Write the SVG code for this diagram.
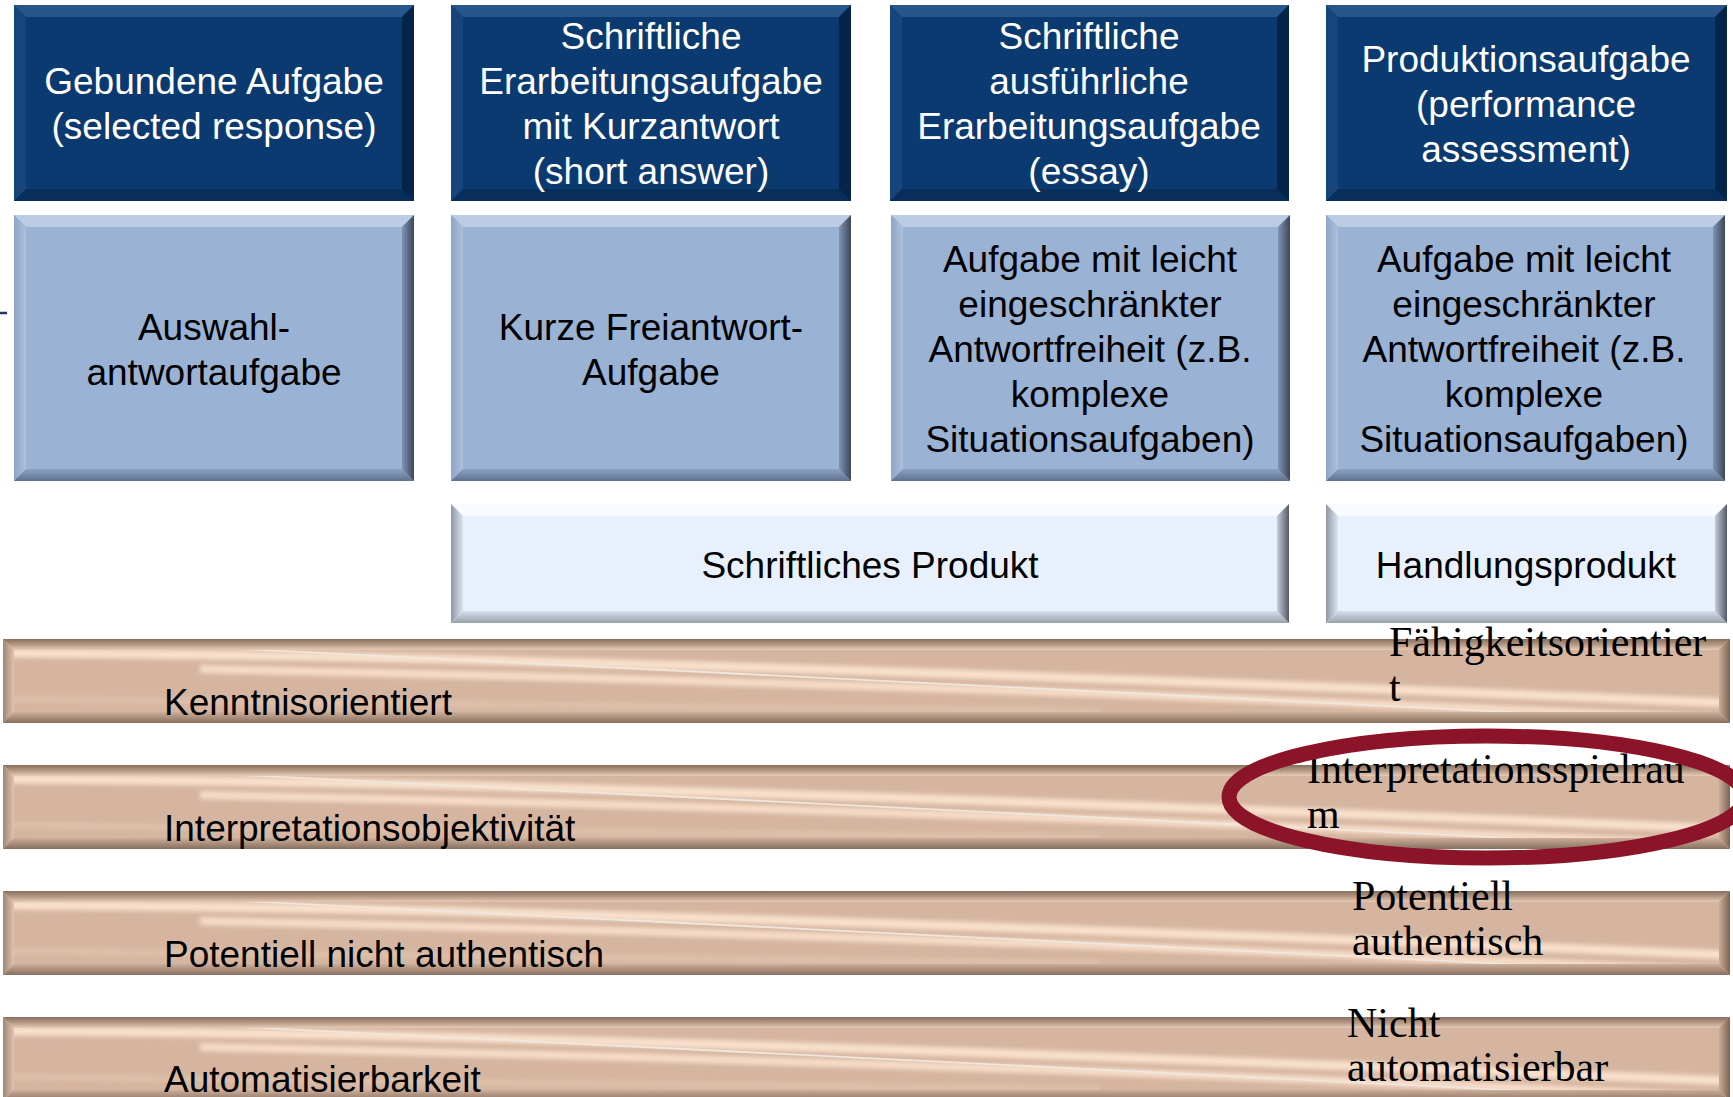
<svg xmlns="http://www.w3.org/2000/svg" xmlns:xlink="http://www.w3.org/1999/xlink" width="1733" height="1097" viewBox="0 0 1733 1097">
<style>
.sans{font-family:"Liberation Sans",Arial,sans-serif;font-size:37px;text-anchor:middle}
.w{fill:#ffffff}
.k{fill:#000000}
.lbl{font-family:"Liberation Sans",Arial,sans-serif;font-size:37px;fill:#000}
.ser{font-family:"Liberation Serif","Times New Roman",serif;font-size:42px;fill:#000}
.dFace{fill:#0B3A70}.dTop{fill:#27568A}.dLeft{fill:#15457B}.dBot{fill:#082E5B}.dRight{fill:#05244A}
.lFace{fill:#9AB2D3}.lTop{fill:#BBCCE4}.lLeft{fill:url(#lLeftG)}.lBot{fill:url(#lBotG)}.lRight{fill:url(#lRightG)}
.pFace{fill:#E8F0FB}.pTop{fill:#F8FBFF}.pLeft{fill:url(#pLeftG)}.pBot{fill:url(#pBotG)}.pRight{fill:url(#pRightG)}
</style>
<defs>
<linearGradient id="lLeftG" x1="0" y1="0" x2="1" y2="0"><stop offset="0" stop-color="#8EA5C6"/><stop offset="1" stop-color="#ADC1DC"/></linearGradient>
<linearGradient id="lBotG" x1="0" y1="0" x2="0" y2="1"><stop offset="0" stop-color="#8CA3C4"/><stop offset="1" stop-color="#5F708C"/></linearGradient>
<linearGradient id="lRightG" x1="0" y1="0" x2="1" y2="0"><stop offset="0" stop-color="#7E94B4"/><stop offset="1" stop-color="#3C475A"/></linearGradient>
<linearGradient id="pLeftG" x1="0" y1="0" x2="1" y2="0"><stop offset="0" stop-color="#9098A6"/><stop offset="1" stop-color="#DCE4EF"/></linearGradient>
<linearGradient id="pBotG" x1="0" y1="0" x2="0" y2="1"><stop offset="0" stop-color="#D6DEEA"/><stop offset="1" stop-color="#9AA2AE"/></linearGradient>
<linearGradient id="pRightG" x1="0" y1="0" x2="1" y2="0"><stop offset="0" stop-color="#C4CCD8"/><stop offset="1" stop-color="#555C68"/></linearGradient>
<linearGradient id="bTopG" x1="0" y1="0" x2="0" y2="1"><stop offset="0" stop-color="#86705F"/><stop offset="0.5" stop-color="#B49884"/><stop offset="1" stop-color="#E6CBB7"/></linearGradient>
<linearGradient id="bLeftG" x1="0" y1="0" x2="1" y2="0"><stop offset="0" stop-color="#9E8676"/><stop offset="1" stop-color="#E0C4B0"/></linearGradient>
<linearGradient id="bBotG" x1="0" y1="0" x2="0" y2="1"><stop offset="0" stop-color="#CDAE99"/><stop offset="1" stop-color="#86705F"/></linearGradient>
<linearGradient id="bRightG" x1="0" y1="0" x2="1" y2="0"><stop offset="0" stop-color="#CBAB96"/><stop offset="1" stop-color="#7A6454"/></linearGradient>
<filter id="soft" x="-5%" y="-50%" width="110%" height="200%"><feGaussianBlur stdDeviation="2.2"/></filter>
<clipPath id="barClip"><rect x="3" y="0" width="1727" height="84"/></clipPath>
<g id="bar">
<rect x="3" y="0" width="1727" height="84" fill="#D5B5A0"/>
<g clip-path="url(#barClip)">
<path d="M3 14 C 400 16, 900 30, 1730 64" fill="none" stroke="#F8E0CC" stroke-width="9" filter="url(#soft)"/>
<path d="M200 30 C 700 40, 1200 56, 1730 80" fill="none" stroke="#F6DCC8" stroke-width="8" filter="url(#soft)"/>
<path d="M100 3 L 1730 84" fill="none" stroke="#EFE6DE" stroke-width="1.8"/>
<path d="M3 60 C 300 62, 700 66, 1100 72" fill="none" stroke="#DEC0AB" stroke-width="6" filter="url(#soft)"/>
</g>
<polygon points="3,0 1730,0 1719,11 14,11" fill="url(#bTopG)"/>
<polygon points="3,0 14,11 14,73 3,84" fill="url(#bLeftG)"/>
<polygon points="3,84 14,73 1719,73 1730,84" fill="url(#bBotG)"/>
<polygon points="1730,0 1730,84 1719,73 1719,11" fill="url(#bRightG)"/>
</g>
</defs>

<line x1="0" y1="313" x2="7" y2="313" stroke="#1F3864" stroke-width="2.5"/>

<g id="head1">
<rect class="dFace" x="14" y="5" width="400" height="196"/>
<polygon class="dTop" points="14,5 414,5 402,17 26,17"/>
<polygon class="dLeft" points="14,5 26,17 26,189 14,201"/>
<polygon class="dBot" points="14,201 26,189 402,189 414,201"/>
<polygon class="dRight" points="414,5 414,201 402,189 402,17"/>
<text class="sans w"><tspan x="214" y="94">Gebundene Aufgabe</tspan><tspan x="214" y="139">(selected response)</tspan></text>
</g>
<g id="head2">
<rect class="dFace" x="451" y="5" width="400" height="196"/>
<polygon class="dTop" points="451,5 851,5 839,17 463,17"/>
<polygon class="dLeft" points="451,5 463,17 463,189 451,201"/>
<polygon class="dBot" points="451,201 463,189 839,189 851,201"/>
<polygon class="dRight" points="851,5 851,201 839,189 839,17"/>
<text class="sans w"><tspan x="651" y="49">Schriftliche</tspan><tspan x="651" y="94">Erarbeitungsaufgabe</tspan><tspan x="651" y="139">mit Kurzantwort</tspan><tspan x="651" y="184">(short answer)</tspan></text>
</g>
<g id="head3">
<rect class="dFace" x="890" y="5" width="399" height="196"/>
<polygon class="dTop" points="890,5 1289,5 1277,17 902,17"/>
<polygon class="dLeft" points="890,5 902,17 902,189 890,201"/>
<polygon class="dBot" points="890,201 902,189 1277,189 1289,201"/>
<polygon class="dRight" points="1289,5 1289,201 1277,189 1277,17"/>
<text class="sans w"><tspan x="1089" y="49">Schriftliche</tspan><tspan x="1089" y="94">ausführliche</tspan><tspan x="1089" y="139">Erarbeitungsaufgabe</tspan><tspan x="1089" y="184">(essay)</tspan></text>
</g>
<g id="head4">
<rect class="dFace" x="1326" y="5" width="401" height="196"/>
<polygon class="dTop" points="1326,5 1727,5 1715,17 1338,17"/>
<polygon class="dLeft" points="1326,5 1338,17 1338,189 1326,201"/>
<polygon class="dBot" points="1326,201 1338,189 1715,189 1727,201"/>
<polygon class="dRight" points="1727,5 1727,201 1715,189 1715,17"/>
<text class="sans w"><tspan x="1526" y="72">Produktionsaufgabe</tspan><tspan x="1526" y="117">(performance</tspan><tspan x="1526" y="162">assessment)</tspan></text>
</g>

<g id="type1">
<rect class="lFace" x="14" y="215" width="400" height="266"/>
<polygon class="lTop" points="14,215 414,215 402,227 26,227"/>
<polygon class="lLeft" points="14,215 26,227 26,469 14,481"/>
<polygon class="lBot" points="14,481 26,469 402,469 414,481"/>
<polygon class="lRight" points="414,215 414,481 402,469 402,227"/>
<text class="sans k"><tspan x="214" y="340">Auswahl-</tspan><tspan x="214" y="385">antwortaufgabe</tspan></text>
</g>
<g id="type2">
<rect class="lFace" x="451" y="215" width="400" height="266"/>
<polygon class="lTop" points="451,215 851,215 839,227 463,227"/>
<polygon class="lLeft" points="451,215 463,227 463,469 451,481"/>
<polygon class="lBot" points="451,481 463,469 839,469 851,481"/>
<polygon class="lRight" points="851,215 851,481 839,469 839,227"/>
<text class="sans k"><tspan x="651" y="340">Kurze Freiantwort-</tspan><tspan x="651" y="385">Aufgabe</tspan></text>
</g>
<g id="type3">
<rect class="lFace" x="891" y="215" width="399" height="266"/>
<polygon class="lTop" points="891,215 1290,215 1278,227 903,227"/>
<polygon class="lLeft" points="891,215 903,227 903,469 891,481"/>
<polygon class="lBot" points="891,481 903,469 1278,469 1290,481"/>
<polygon class="lRight" points="1290,215 1290,481 1278,469 1278,227"/>
<text class="sans k"><tspan x="1090" y="272">Aufgabe mit leicht</tspan><tspan x="1090" y="317">eingeschränkter</tspan><tspan x="1090" y="362">Antwortfreiheit (z.B.</tspan><tspan x="1090" y="407">komplexe</tspan><tspan x="1090" y="452">Situationsaufgaben)</tspan></text>
</g>
<g id="type4">
<rect class="lFace" x="1326" y="215" width="399" height="266"/>
<polygon class="lTop" points="1326,215 1725,215 1713,227 1338,227"/>
<polygon class="lLeft" points="1326,215 1338,227 1338,469 1326,481"/>
<polygon class="lBot" points="1326,481 1338,469 1713,469 1725,481"/>
<polygon class="lRight" points="1725,215 1725,481 1713,469 1713,227"/>
<text class="sans k"><tspan x="1524" y="272">Aufgabe mit leicht</tspan><tspan x="1524" y="317">eingeschränkter</tspan><tspan x="1524" y="362">Antwortfreiheit (z.B.</tspan><tspan x="1524" y="407">komplexe</tspan><tspan x="1524" y="452">Situationsaufgaben)</tspan></text>
</g>

<g id="prod1">
<rect class="pFace" x="451" y="504" width="838" height="119"/>
<polygon class="pTop" points="451,504 1289,504 1277,516 463,516"/>
<polygon class="pLeft" points="451,504 463,516 463,611 451,623"/>
<polygon class="pBot" points="451,623 463,611 1277,611 1289,623"/>
<polygon class="pRight" points="1289,504 1289,623 1277,611 1277,516"/>
<text class="sans k" x="870" y="578">Schriftliches Produkt</text>
</g>
<g id="prod2">
<rect class="pFace" x="1326" y="504" width="401" height="119"/>
<polygon class="pTop" points="1326,504 1727,504 1715,516 1338,516"/>
<polygon class="pLeft" points="1326,504 1338,516 1338,611 1326,623"/>
<polygon class="pBot" points="1326,623 1338,611 1715,611 1727,623"/>
<polygon class="pRight" points="1727,504 1727,623 1715,611 1715,516"/>
<text class="sans k" x="1526" y="578">Handlungsprodukt</text>
</g>

<g id="dim1">
<use href="#bar" xlink:href="#bar" y="639"/>
<text class="lbl" x="164" y="715">Kenntnisorientiert</text>
<text class="ser"><tspan x="1389" y="656">Fähigkeitsorientier</tspan><tspan x="1389" y="701">t</tspan></text>
</g>
<g id="dim2">
<use href="#bar" xlink:href="#bar" y="765"/>
<text class="lbl" x="164" y="841">Interpretationsobjektivität</text>
<text class="ser"><tspan x="1307" y="783">Interpretationsspielrau</tspan><tspan x="1307" y="828">m</tspan></text>
</g>
<g id="dim3">
<use href="#bar" xlink:href="#bar" y="891"/>
<text class="lbl" x="164" y="967">Potentiell nicht authentisch</text>
<text class="ser"><tspan x="1352" y="910">Potentiell</tspan><tspan x="1352" y="955">authentisch</tspan></text>
</g>
<g id="dim4">
<use href="#bar" xlink:href="#bar" y="1017"/>
<text class="lbl" x="164" y="1092">Automatisierbarkeit</text>
<text class="ser"><tspan x="1347" y="1037">Nicht</tspan><tspan x="1347" y="1081">automatisierbar</tspan></text>
</g>

<g id="highlight">
<ellipse cx="1487" cy="797" rx="258" ry="61" fill="none" stroke="#8B1428" stroke-width="15"/>
</g>
<g id="connectors"></g>
</svg>
